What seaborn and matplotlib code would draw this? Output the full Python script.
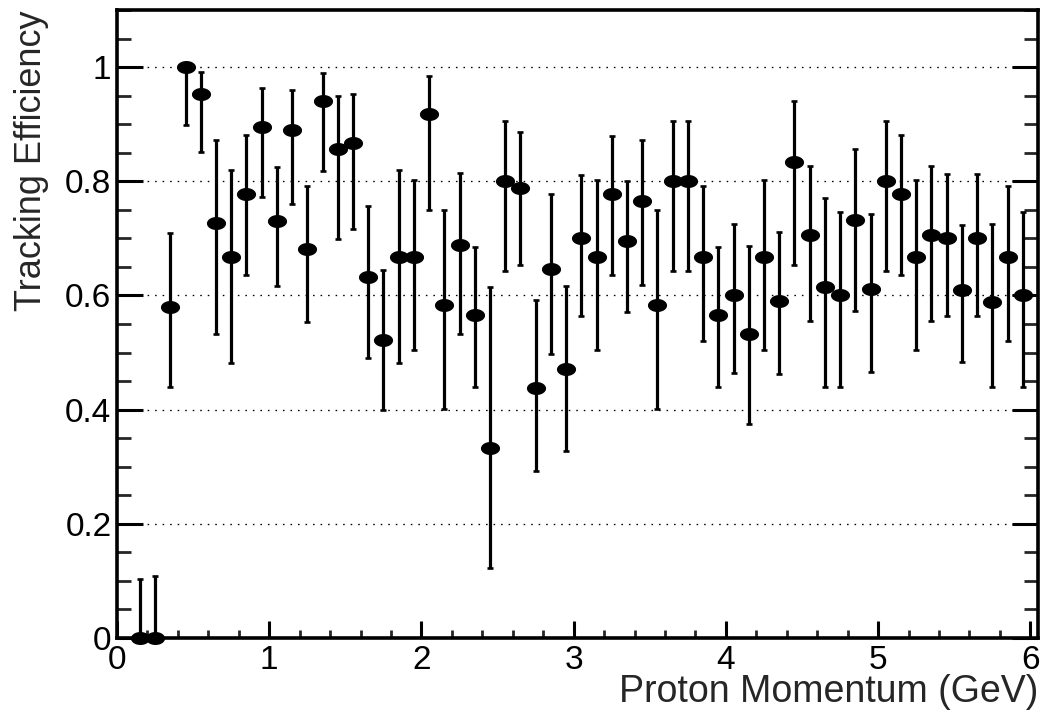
import numpy as np
import pandas as pd
import matplotlib
matplotlib.use("Agg")
import matplotlib.pyplot as plt
from matplotlib.path import Path
from matplotlib.ticker import MultipleLocator, FixedLocator
import seaborn as sns

# ---- data ----
momentum = [0.15, 0.25, 0.35, 0.45, 0.55, 0.65, 0.75, 0.85, 0.95, 1.05,
            1.15, 1.25, 1.35, 1.45, 1.55, 1.65, 1.75, 1.85, 1.95, 2.05,
            2.15, 2.25, 2.35, 2.45, 2.55, 2.65, 2.75, 2.85, 2.95, 3.05,
            3.15, 3.25, 3.35, 3.45, 3.55, 3.65, 3.75, 3.85, 3.95, 4.05,
            4.15, 4.25, 4.35, 4.45, 4.55, 4.65, 4.75, 4.85, 4.95, 5.05,
            5.15, 5.25, 5.35, 5.45, 5.55, 5.65, 5.75, 5.85, 5.95]
efficiency = [0.0, 0.0, 0.58, 1.0, 0.952, 0.727, 0.667, 0.778, 0.895, 0.731,
              0.889, 0.682, 0.941, 0.857, 0.867, 0.632, 0.522, 0.667, 0.667, 0.917,
              0.583, 0.688, 0.565, 0.333, 0.800, 0.789, 0.438, 0.647, 0.471, 0.700,
              0.667, 0.778, 0.696, 0.765, 0.583, 0.800, 0.800, 0.667, 0.566, 0.600,
              0.533, 0.667, 0.591, 0.833, 0.706, 0.615, 0.600, 0.733, 0.611, 0.800,
              0.778, 0.667, 0.706, 0.700, 0.609, 0.700, 0.588, 0.667, 0.600]
lower = [0.0, 0.0, 0.44, 0.898, 0.851, 0.532, 0.481, 0.636, 0.773, 0.616,
         0.760, 0.553, 0.818, 0.699, 0.717, 0.491, 0.400, 0.481, 0.505, 0.750,
         0.401, 0.532, 0.439, 0.122, 0.643, 0.654, 0.293, 0.497, 0.328, 0.564,
         0.505, 0.636, 0.571, 0.618, 0.401, 0.643, 0.643, 0.521, 0.440, 0.464,
         0.375, 0.505, 0.463, 0.654, 0.556, 0.439, 0.439, 0.573, 0.466, 0.643,
         0.636, 0.505, 0.556, 0.564, 0.483, 0.564, 0.439, 0.521, 0.439]
upper = [0.103, 0.109, 0.71, 1.0, 0.992, 0.873, 0.819, 0.881, 0.963, 0.825,
         0.960, 0.791, 0.990, 0.949, 0.953, 0.757, 0.645, 0.819, 0.802, 0.985,
         0.749, 0.815, 0.684, 0.615, 0.906, 0.887, 0.592, 0.777, 0.617, 0.811,
         0.802, 0.880, 0.800, 0.873, 0.749, 0.906, 0.906, 0.791, 0.684, 0.725,
         0.686, 0.802, 0.711, 0.940, 0.826, 0.770, 0.746, 0.856, 0.743, 0.906,
         0.881, 0.802, 0.826, 0.812, 0.724, 0.812, 0.726, 0.791, 0.746]
x_label = "Proton Momentum (GeV)"
y_label = "Tracking Efficiency"
y_ticks = [0, 0.2, 0.4, 0.6, 0.8, 1.0]
y_ticklabels = ["0", "0.2", "0.4", "0.6", "0.8", "1"]

df = pd.DataFrame({"p": momentum, "eff": efficiency, "lo": lower, "hi": upper})

# ---- style ----
sns.set_style("white")
plt.rcParams["font.family"] = ["Liberation Sans", "DejaVu Sans"]

W, H = 1045, 715
fig = plt.figure(figsize=(W / 100, H / 100), dpi=100)
ax = fig.add_axes([117 / W, 1 - 638 / H, (1038 - 117) / W, (638 - 10) / H])

# error bars
yerr = np.vstack([df["eff"] - df["lo"], df["hi"] - df["eff"]])
ax.errorbar(df["p"], df["eff"], yerr=yerr, fmt="none", ecolor="black",
            elinewidth=2.3, capsize=2.4, capthick=1.9, zorder=3, clip_on=False)

# elliptical markers
t = np.linspace(0, 2 * np.pi, 41)
ell = Path(np.column_stack([np.cos(t), 0.68 * np.sin(t)]), closed=True)
sns.scatterplot(data=df, x="p", y="eff", ax=ax, marker=ell, s=190,
                color="black", edgecolor="black", linewidth=0, zorder=4,
                clip_on=False, legend=False)

# axes ranges / ticks
ax.set_xlim(0, 6.05)
ax.set_ylim(0, 1.1)
ax.xaxis.set_major_locator(FixedLocator([0, 1, 2, 3, 4, 5, 6]))
ax.xaxis.set_minor_locator(MultipleLocator(0.2))
ax.set_yticks(y_ticks)
ax.set_yticklabels(y_ticklabels)
ax.yaxis.set_minor_locator(MultipleLocator(0.05))

ax.tick_params(axis="x", which="major", direction="in", length=12, width=2.2,
               labelsize=24, pad=5, bottom=True, top=False, colors="black")
ax.tick_params(axis="x", which="minor", direction="in", length=6, width=2.0,
               bottom=True, top=False)
ax.tick_params(axis="y", which="major", direction="in", length=19, width=2.2,
               labelsize=24, pad=4, left=True, right=True, colors="black")
ax.tick_params(axis="y", which="minor", direction="in", length=10, width=2.0,
               left=True, right=True)

for sp in ax.spines.values():
    sp.set_visible(True)
    sp.set_linewidth(2.6)
    sp.set_color("black")

# dotted horizontal grid at major y ticks
ax.yaxis.grid(True, which="major", color="black", linewidth=0.95,
              linestyle=(0, (1.2, 4.5)))
ax.xaxis.grid(False)
ax.set_axisbelow(True)

ax.set_xlabel(x_label, fontsize=27, loc="right")
ax.set_ylabel(y_label, fontsize=26, loc="top")
ax.xaxis.set_label_coords(1.0, -0.058)
ax.yaxis.set_label_coords(-0.074, 1.0)

fig.savefig("out.png", dpi=100, facecolor="white")
